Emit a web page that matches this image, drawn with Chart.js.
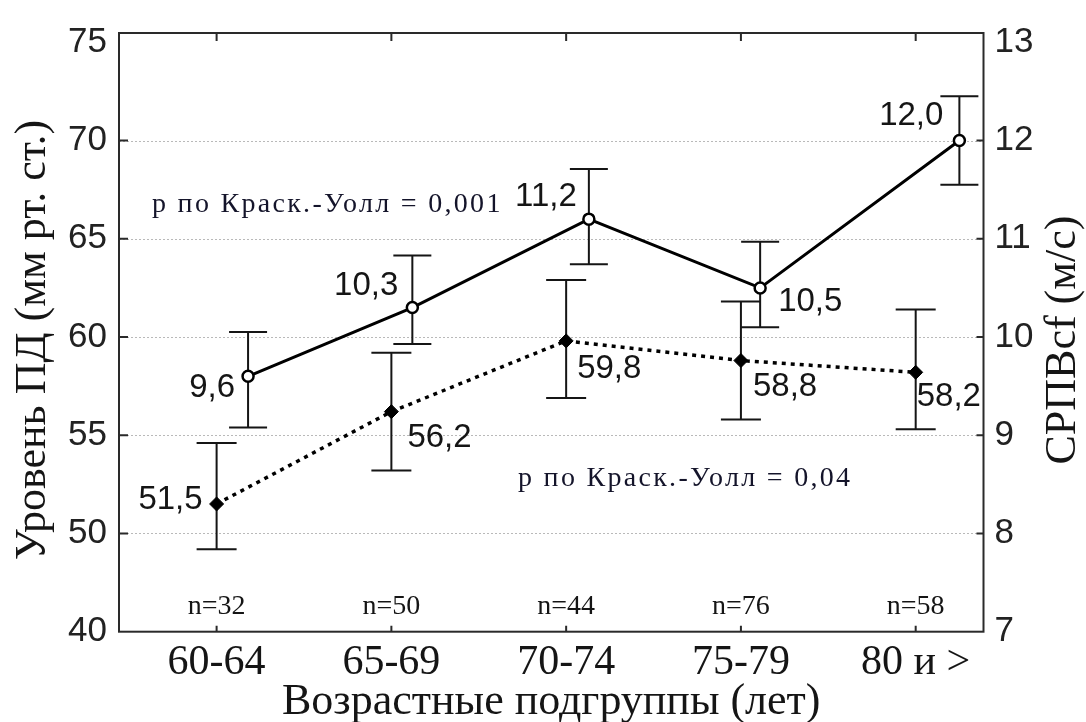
<!DOCTYPE html>
<html>
<head>
<meta charset="utf-8">
<script src="https://cdn.jsdelivr.net/npm/chart.js@4.4.1/dist/chart.umd.min.js"></script>
<style>
  html, body { margin: 0; padding: 0; background: #fff; }
  #wrap { width: 1086px; height: 722px; }
</style>
</head>
<body>
<div id="wrap"><canvas id="c" width="1086" height="722"></canvas></div>
<script>
// Age subgroups and group sizes
const categories = ['60-64', '65-69', '70-74', '75-79', '80 и >'];
const groupSizes = ['n=32', 'n=50', 'n=44', 'n=76', 'n=58'];

// Pulse pressure, mm Hg (left axis) – dotted series
const ppX = [0, 1, 2, 3, 4];
const ppMean = [51.5, 56.2, 59.8, 58.8, 58.2];
const ppLow = [49.2, 53.2, 56.9, 55.8, 55.3];
const ppHigh = [54.6, 59.2, 62.9, 61.8, 61.4];

// Carotid-femoral PWV, m/s (right axis) – solid series
const pwvX = [0.18, 1.12, 2.13, 3.11, 4.25];
const pwvMean = [9.6, 10.3, 11.2, 10.5, 12.0];
const pwvLow = [9.08, 9.93, 10.74, 10.10, 11.55];
const pwvHigh = [10.05, 10.83, 11.71, 10.97, 12.45];

// Axis ticks (left axis has a break below 50)
const leftTickValues = [45, 50, 55, 60, 65, 70, 75];
const leftTickLabels = ['40', '50', '55', '60', '65', '70', '75'];
const rightTickValues = [7, 8, 9, 10, 11, 12, 13];
const rightTickLabels = ['7', '8', '9', '10', '11', '12', '13'];

const pwvTestText = 'p по Краск.-Уолл = 0,001';
const ppTestText = 'p по Краск.-Уолл = 0,04';

// Value label placement (pixel offsets from each point)
const pwvLabelPlacement = [
  { dx: -13, dy: 12, align: 'right' },
  { dx: -14, dy: -22, align: 'right' },
  { dx: -12, dy: -22, align: 'right' },
  { dx: 18, dy: 14, align: 'left' },
  { dx: -16, dy: -25, align: 'right' }
];
const ppLabelPlacement = [
  { dx: -14, dy: -4, align: 'right' },
  { dx: 16, dy: 26, align: 'left' },
  { dx: 11, dy: 28, align: 'left' },
  { dx: 12, dy: 26, align: 'left' },
  { dx: 1, dy: 25, align: 'left' }
];

const SERIF = '"Liberation Serif", "Times New Roman", serif';
const SANS = '"Liberation Sans", Arial, sans-serif';
const INK = '#151515';

const fmt1 = v => v.toFixed(1).replace('.', ',');

function fixedTicks(values) {
  return scale => { scale.ticks = values.map(v => ({ value: v })); };
}

function drawErrorBars(ctx, xs, lows, highs, xScale, yScale, capHalf) {
  ctx.save();
  ctx.strokeStyle = INK;
  ctx.lineWidth = 2;
  ctx.setLineDash([]);
  xs.forEach((x, i) => {
    const px = xScale.getPixelForValue(x);
    const top = yScale.getPixelForValue(highs[i]);
    const bot = yScale.getPixelForValue(lows[i]);
    ctx.beginPath();
    ctx.moveTo(px, top); ctx.lineTo(px, bot);
    ctx.moveTo(px - capHalf, top); ctx.lineTo(px + capHalf, top);
    ctx.moveTo(px - capHalf, bot); ctx.lineTo(px + capHalf, bot);
    ctx.stroke();
  });
  ctx.restore();
}

const backdrop = {
  id: 'backdrop',
  beforeDatasetsDraw(chart) {
    const { ctx, chartArea: a, scales } = chart;
    ctx.save();
    ctx.strokeStyle = '#b9b9b9';
    ctx.lineWidth = 1;
    ctx.setLineDash([2, 2]);
    rightTickValues.slice(1, -1).forEach(v => {
      const y = Math.round(scales.y1.getPixelForValue(v)) + 0.5;
      ctx.beginPath();
      ctx.moveTo(a.left, y);
      ctx.lineTo(a.right, y);
      ctx.stroke();
    });
    ctx.restore();
    drawErrorBars(ctx, ppX, ppLow, ppHigh, scales.x, scales.y, 20);
    drawErrorBars(ctx, pwvX, pwvLow, pwvHigh, scales.x, scales.y1, 19);
  }
};

const frame = {
  id: 'frame',
  afterDatasetsDraw(chart) {
    const { ctx, chartArea: a, scales } = chart;
    ctx.save();
    ctx.strokeStyle = '#2a2a2a';
    ctx.lineWidth = 2;
    ctx.setLineDash([]);
    ctx.strokeRect(a.left, a.top, a.right - a.left, a.bottom - a.top);
    ctx.beginPath();
    categories.forEach((_, i) => {
      const px = scales.x.getPixelForValue(i);
      ctx.moveTo(px, a.bottom); ctx.lineTo(px, a.bottom - 6);
      ctx.moveTo(px, a.top); ctx.lineTo(px, a.top + 8);
    });
    rightTickValues.slice(1, -1).forEach(v => {
      const py = scales.y1.getPixelForValue(v);
      ctx.moveTo(a.left, py); ctx.lineTo(a.left + 9, py);
      ctx.moveTo(a.right - 7, py); ctx.lineTo(a.right, py);
    });
    ctx.stroke();
    ctx.restore();
  }
};

const annotations = {
  id: 'annotations',
  afterDraw(chart) {
    const { ctx, chartArea: a, scales } = chart;
    ctx.save();
    ctx.fillStyle = INK;

    // value labels
    ctx.font = '33px ' + SANS;
    ctx.textBaseline = 'middle';
    pwvX.forEach((x, i) => {
      const p = pwvLabelPlacement[i];
      ctx.textAlign = p.align;
      ctx.fillText(fmt1(pwvMean[i]),
        scales.x.getPixelForValue(x) + p.dx,
        scales.y1.getPixelForValue(pwvMean[i]) + p.dy);
    });
    ppX.forEach((x, i) => {
      const p = ppLabelPlacement[i];
      ctx.textAlign = p.align;
      ctx.fillText(fmt1(ppMean[i]),
        scales.x.getPixelForValue(x) + p.dx,
        scales.y.getPixelForValue(ppMean[i]) + p.dy);
    });

    // group sizes
    ctx.font = '28px ' + SERIF;
    ctx.textAlign = 'center';
    groupSizes.forEach((t, i) => {
      ctx.fillText(t, scales.x.getPixelForValue(i), a.bottom - 25);
    });

    // Kruskal–Wallis results
    ctx.font = '28px ' + SERIF;
    ctx.textAlign = 'left';
    ctx.textBaseline = 'alphabetic';
    ctx.fillStyle = '#14142a';
    if ('letterSpacing' in ctx) ctx.letterSpacing = '2.3px';
    ctx.fillText(pwvTestText, 152, 212);
    ctx.fillText(ppTestText, 518, 486);
    if ('letterSpacing' in ctx) ctx.letterSpacing = '0px';

    // vertical axis titles
    ctx.fillStyle = INK;
    ctx.font = '44px ' + SERIF;
    ctx.textAlign = 'center';
    ctx.textBaseline = 'alphabetic';
    ctx.save();
    ctx.translate(45, 340);
    ctx.rotate(-Math.PI / 2);
    ctx.fillText('Уровень ПД (мм рт. ст.)', 0, 0);
    ctx.restore();
    ctx.save();
    ctx.translate(1075, 340);
    ctx.rotate(-Math.PI / 2);
    ctx.fillText('СРПВсf (м/с)', 0, 0);
    ctx.restore();

    ctx.restore();
  }
};

new Chart(document.getElementById('c'), {
  type: 'line',
  data: {
    datasets: [
      {
        label: 'СРПВсf',
        yAxisID: 'y1',
        data: pwvX.map((x, i) => ({ x, y: pwvMean[i] })),
        borderColor: '#000',
        borderWidth: 3,
        tension: 0,
        pointStyle: 'circle',
        pointRadius: 5.5,
        pointBorderWidth: 2.5,
        pointBackgroundColor: '#fff',
        pointBorderColor: '#000'
      },
      {
        label: 'ПД',
        yAxisID: 'y',
        data: ppX.map((x, i) => ({ x, y: ppMean[i] })),
        borderColor: '#000',
        borderWidth: 3.5,
        borderDash: [4, 5],
        tension: 0,
        pointStyle: 'rectRot',
        pointRadius: 7,
        pointBorderWidth: 1,
        pointBackgroundColor: '#000',
        pointBorderColor: '#000'
      }
    ]
  },
  options: {
    responsive: false,
    devicePixelRatio: 1,
    animation: false,
    layout: { padding: { top: 21, left: 0, right: 0, bottom: 0 } },
    plugins: { legend: { display: false }, tooltip: { enabled: false } },
    scales: {
      x: {
        type: 'linear',
        min: -0.5585,
        max: 4.388,
        afterBuildTicks: fixedTicks(categories.map((_, i) => i)),
        afterFit: s => { s.height = 90.3; },
        grid: { display: false, drawTicks: false },
        border: { display: false },
        ticks: {
          autoSkip: false,
          maxRotation: 0,
          padding: 6,
          color: INK,
          font: { family: SERIF, size: 42 },
          callback: v => categories[v]
        },
        title: {
          display: true,
          text: 'Возрастные подгруппы (лет)',
          color: INK,
          font: { family: SERIF, size: 44, lineHeight: 0.9 },
          padding: 0
        }
      },
      y: {
        type: 'linear',
        position: 'left',
        min: 45,
        max: 75.47,
        afterBuildTicks: fixedTicks(leftTickValues),
        afterFit: s => { s.width = 119; },
        grid: { display: false, drawTicks: false },
        border: { display: false },
        ticks: {
          padding: 12,
          color: '#222',
          font: { family: SANS, size: 35 },
          callback: (v, i) => leftTickLabels[i]
        }
      },
      y1: {
        type: 'linear',
        position: 'right',
        min: 7,
        max: 13.095,
        afterBuildTicks: fixedTicks(rightTickValues),
        afterFit: s => { s.width = 102.5; },
        grid: { display: false, drawTicks: false },
        border: { display: false },
        ticks: {
          padding: 11,
          color: '#222',
          font: { family: SANS, size: 35 },
          callback: (v, i) => rightTickLabels[i]
        }
      }
    }
  },
  plugins: [backdrop, frame, annotations]
});
</script>
</body>
</html>
